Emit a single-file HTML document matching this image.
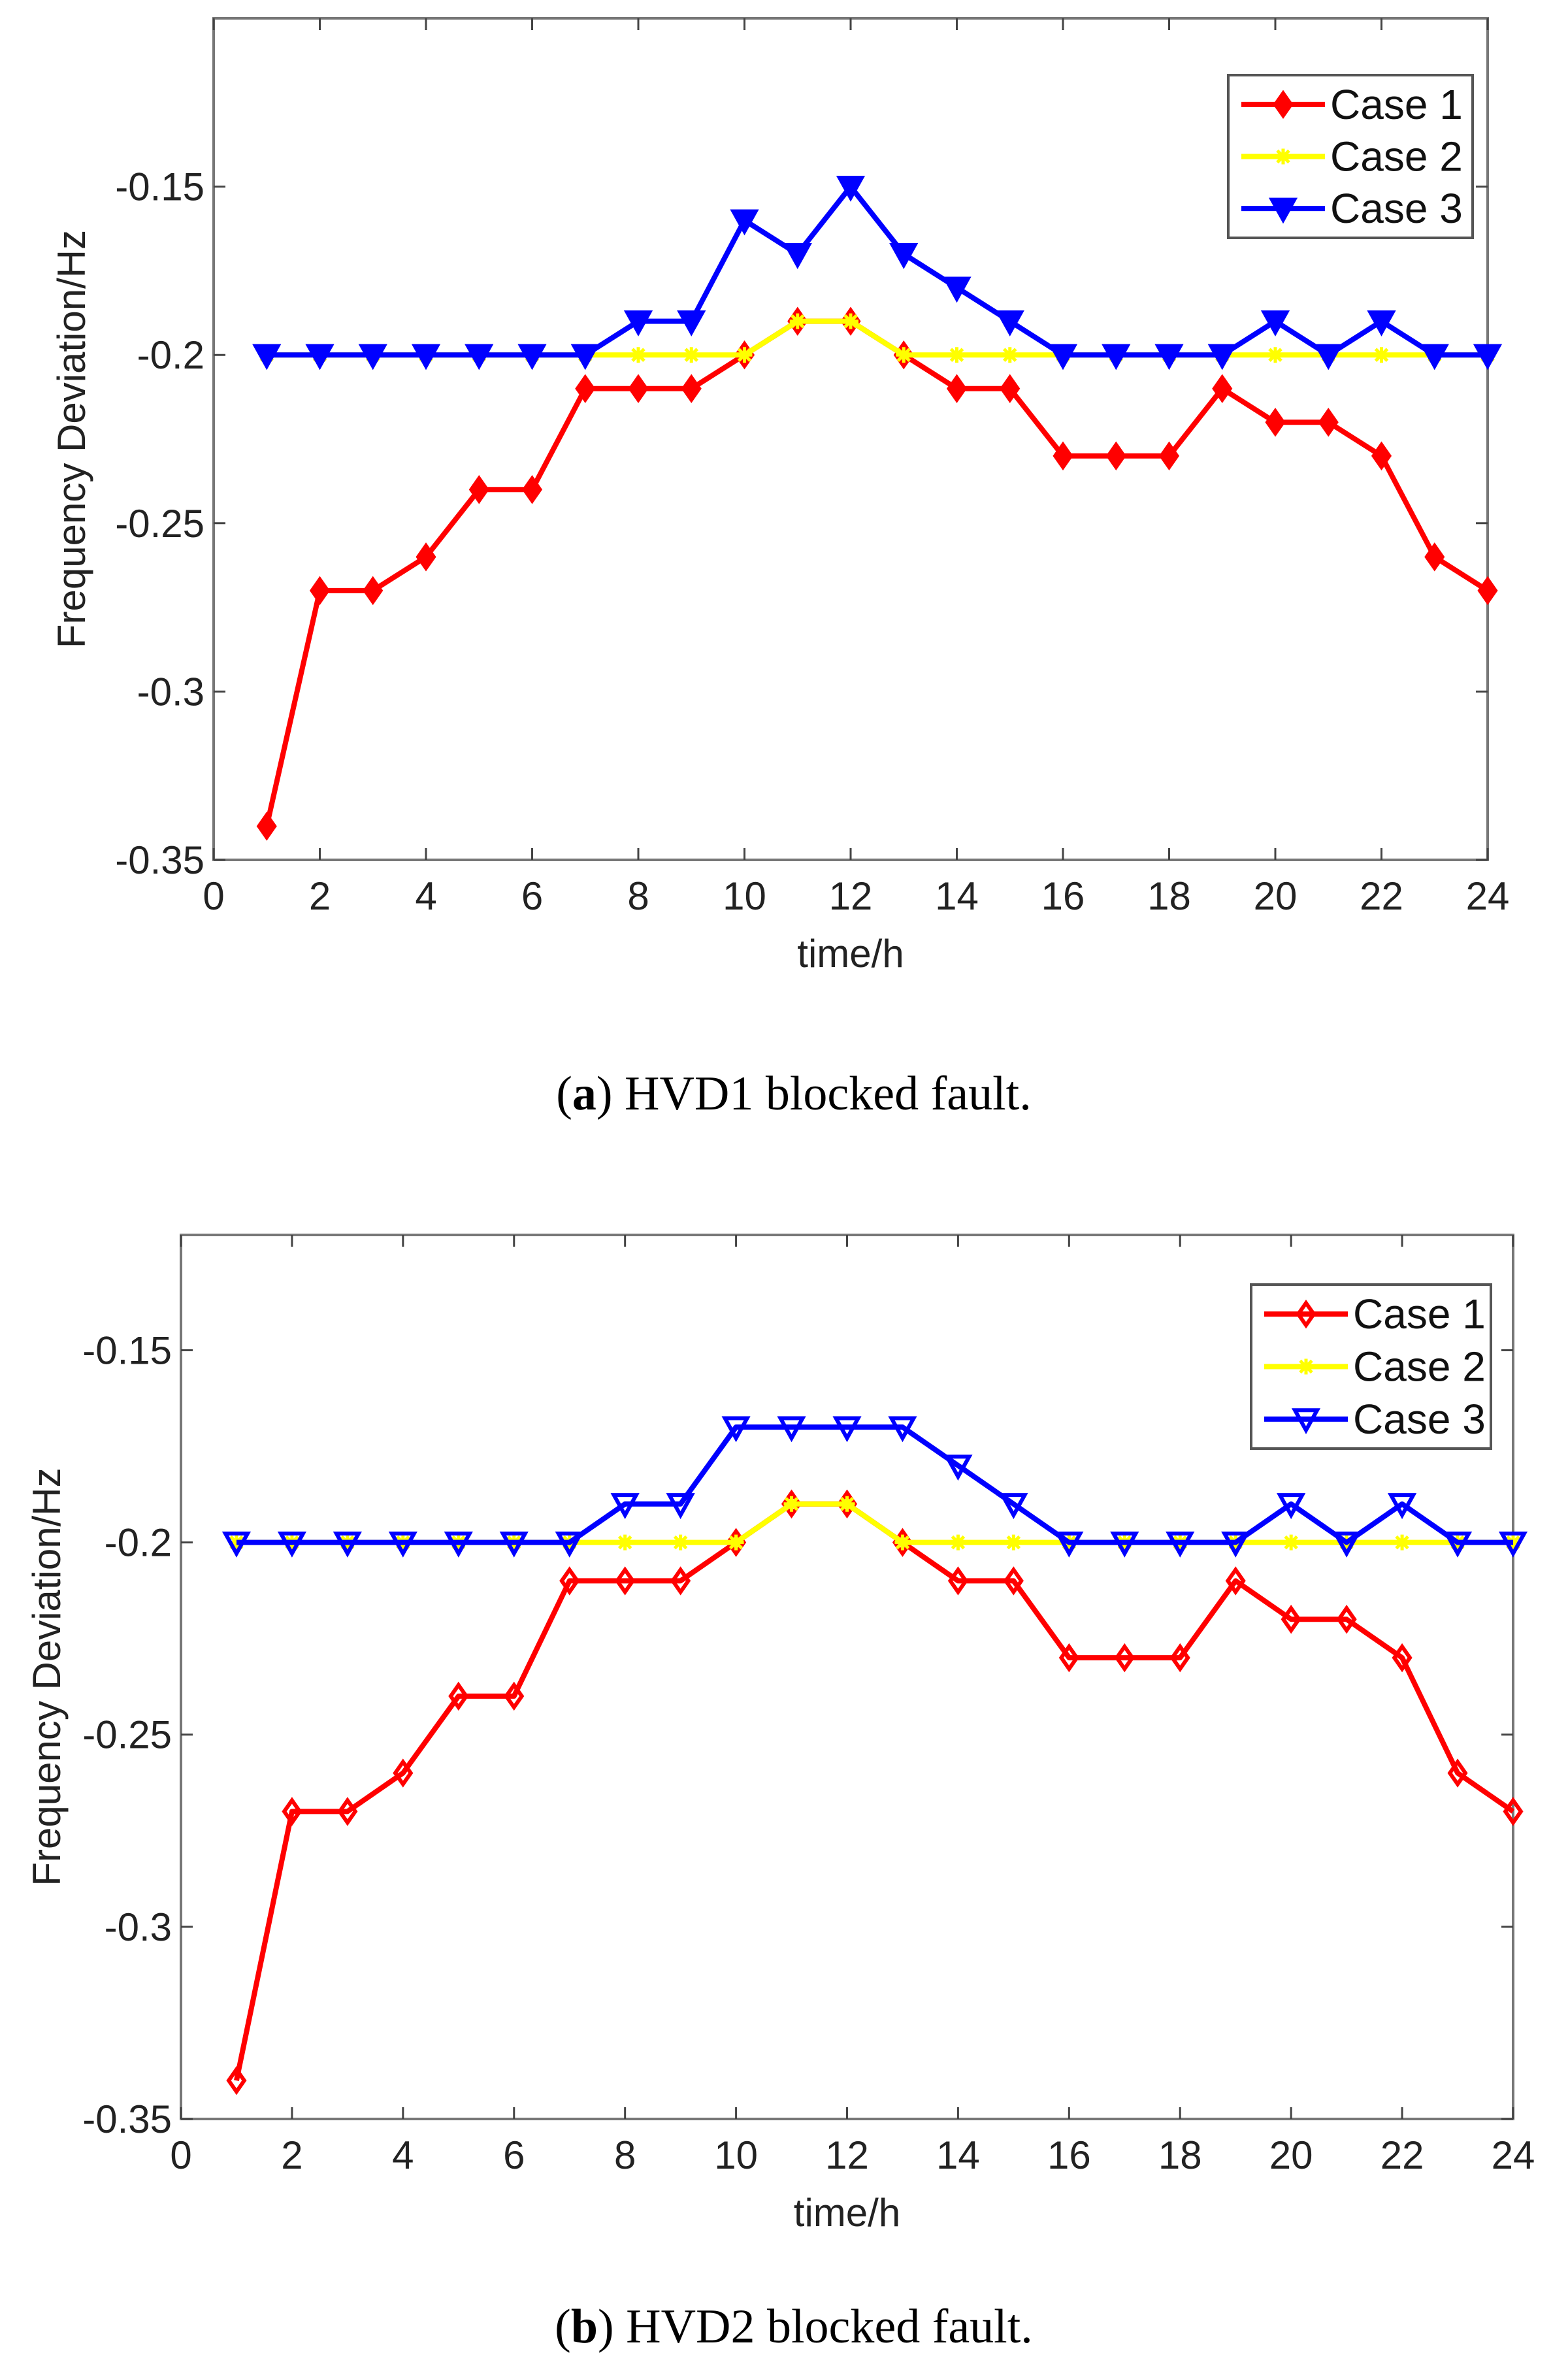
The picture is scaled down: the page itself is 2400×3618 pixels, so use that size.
<!DOCTYPE html>
<html><head><meta charset="utf-8"><style>
html,body{margin:0;padding:0;background:#fff;}
svg{display:block;font-family:"Liberation Sans",sans-serif;}
</style></head><body>
<svg id="fig" width="2400" height="3618" viewBox="0 0 2400 3618">
<text x="1215" y="1698" font-family="Liberation Serif,serif" font-size="74" text-anchor="middle">(<tspan font-weight="bold">a</tspan>) HVD1 blocked fault.</text>
<text x="1215" y="3585" font-family="Liberation Serif,serif" font-size="74" text-anchor="middle">(<tspan font-weight="bold">b</tspan>) HVD2 blocked fault.</text>
</svg>
<script>
const hours=[1,2,3,4,5,6,7,8,9,10,11,12,13,14,15,16,17,18,19,20,21,22,23,24];
const case1=[-0.34,-0.27,-0.27,-0.26,-0.24,-0.24,-0.21,-0.21,-0.21,-0.20,-0.19,-0.19,-0.20,-0.21,-0.21,-0.23,-0.23,-0.23,-0.21,-0.22,-0.22,-0.23,-0.26,-0.27];
const case2=[-0.2,-0.2,-0.2,-0.2,-0.2,-0.2,-0.2,-0.2,-0.2,-0.2,-0.19,-0.19,-0.2,-0.2,-0.2,-0.2,-0.2,-0.2,-0.2,-0.2,-0.2,-0.2,-0.2,-0.2];
const case3a=[-0.2,-0.2,-0.2,-0.2,-0.2,-0.2,-0.2,-0.19,-0.19,-0.16,-0.17,-0.15,-0.17,-0.18,-0.19,-0.2,-0.2,-0.2,-0.2,-0.19,-0.2,-0.19,-0.2,-0.2];
const case3b=[-0.2,-0.2,-0.2,-0.2,-0.2,-0.2,-0.2,-0.19,-0.19,-0.17,-0.17,-0.17,-0.17,-0.18,-0.19,-0.2,-0.2,-0.2,-0.2,-0.19,-0.2,-0.19,-0.2,-0.2];
const xTicks=[0,2,4,6,8,10,12,14,16,18,20,22,24];
const yTicks=[-0.35,-0.3,-0.25,-0.2,-0.15];
const yTickLabels=["-0.35","-0.3","-0.25","-0.2","-0.15"];
const legendLabels=["Case 1","Case 2","Case 3"];
const NS="http://www.w3.org/2000/svg";
const svg=document.getElementById('fig');
function mk(tag,attrs,parent){const e=document.createElementNS(NS,tag);for(const k in attrs)e.setAttribute(k,attrs[k]);(parent||svg).appendChild(e);return e;}
function marker(g,type,x,y,color,hollow){
  let el;const s=17;
  if(type==='diamond'){el=mk('polygon',{points:`${x},${y-s} ${x+s*0.7},${y} ${x},${y+s} ${x-s*0.7},${y}`,fill:hollow?'none':color,stroke:color,'stroke-width':6},g);}
  else if(type==='tri'){el=mk('polygon',{points:`${x-s},${y-s*0.8} ${x+s},${y-s*0.8} ${x},${y+s}`,fill:hollow?'none':color,stroke:color,'stroke-width':6},g);}
  else {el=mk('path',{d:`M${x-12},${y}H${x+12}M${x},${y-12}V${y+12}M${x-9},${y-9}L${x+9},${y+9}M${x-9},${y+9}L${x+9},${y-9}`,stroke:color,'stroke-width':5,fill:'none'},g);}
  
  
}
function chart(cfg){
  const {L,R,T,B,yMax,c3,hollow,legend,ylabX,id}=cfg;
  const X=v=>L+(v-0)/24*(R-L);
  const Y=v=>B-(v-(-0.35))/(yMax-(-0.35))*(B-T);
  const g=mk('g',{});
  
  
  mk('rect',{x:L,y:T,width:R-L,height:B-T,fill:'#fff',stroke:'#777','stroke-width':4},g);
  xTicks.forEach(t=>{const x=X(t);
    mk('line',{x1:x,y1:B,x2:x,y2:B-18,stroke:'#444','stroke-width':3},g);
    mk('line',{x1:x,y1:T,x2:x,y2:T+18,stroke:'#444','stroke-width':3},g);
    const tx=mk('text',{x:x,y:B+76,'font-size':60,'text-anchor':'middle',fill:'#222'},g);tx.textContent=t;
    
    
  });
  yTicks.forEach((t,i)=>{const y=Y(t);
    mk('line',{x1:L,y1:y,x2:L+18,y2:y,stroke:'#444','stroke-width':3},g);
    mk('line',{x1:R,y1:y,x2:R-18,y2:y,stroke:'#444','stroke-width':3},g);
    const tx=mk('text',{x:L-14,y:y+21,'font-size':60,'text-anchor':'end',fill:'#222'},g);tx.textContent=yTickLabels[i];
    
    
  });
  const xt=mk('text',{x:(L+R)/2,y:B+164,'font-size':60,'text-anchor':'middle',fill:'#222'},g);xt.textContent='time/h';
  
  
  const yt=mk('text',{x:0,y:0,'font-size':60,'text-anchor':'middle',fill:'#222',transform:`translate(${ylabX},${(T+B)/2}) rotate(-90)`},g);yt.textContent='Frequency Deviation/Hz';
  
  
  const series=[[case1,'#ff0000','diamond'],[case2,'#ffff00','x'],[c3,'#0000ff','tri']];
  series.forEach(([d,col,type],si)=>{
    const pts=hours.map((h,i)=>X(h)+','+Y(d[i])).join(' ');
    const pl=mk('polyline',{points:pts,fill:'none',stroke:col,'stroke-width':8,'stroke-linejoin':'round'},g);
    
    
    hours.forEach((h,i)=>marker(g,type,X(h),Y(d[i]),col,hollow&&type!=='x'));
  });
  const lg=mk('g',{},g);
  
  
  mk('rect',{x:legend.x,y:legend.y,width:legend.w,height:legend.h,fill:'#fff',stroke:'#555','stroke-width':4},lg);
  series.forEach(([d,col,type],i)=>{
    const cy=legend.y+legend.h*(0.18+0.32*i);
    mk('line',{x1:legend.x+20,y1:cy,x2:legend.x+148,y2:cy,stroke:col,'stroke-width':8},lg);
    marker(lg,type,legend.x+84,cy,col,hollow&&type!=='x');
    const tx=mk('text',{x:legend.x+156,y:cy+22,'font-size':64,fill:'#111'},lg);tx.textContent=legendLabels[i];
    
    
  });
}
chart({id:'a',L:327,R:2277,T:28,B:1316,yMax:-0.1,c3:case3a,hollow:false,legend:{x:1880,y:115,w:374,h:249},ylabX:130});
chart({id:'b',L:277,R:2316,T:1890,B:3243,yMax:-0.12,c3:case3b,hollow:true,legend:{x:1915,y:1966,w:367,h:251},ylabX:92});
</script>
</body></html>
